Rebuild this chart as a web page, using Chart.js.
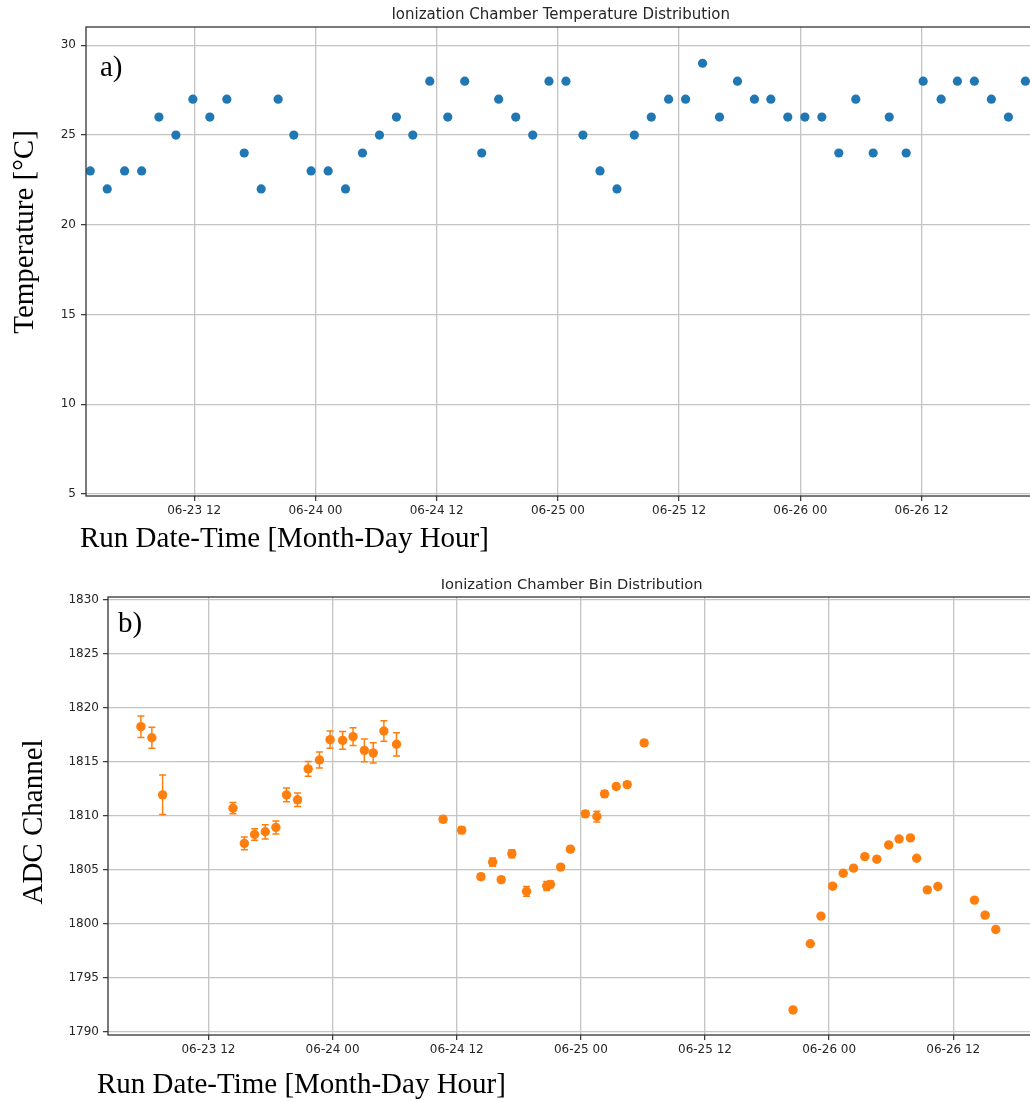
<!DOCTYPE html>
<html>
<head>
<meta charset="utf-8">
<script src="https://cdn.jsdelivr.net/npm/chart.js"></script>
<style>
  body { margin: 0; background: #fff; overflow: hidden; }
  #wrap { position: relative; width: 1030px; height: 1102px; overflow: hidden; }
  canvas { position: absolute; left: 0; }
</style>
</head>
<body>
<div id="wrap">
  <canvas id="tempChart" width="1040" height="556" style="top:0"></canvas>
  <canvas id="adcChart" width="1040" height="546" style="top:556px"></canvas>
</div>
<script>
// run times are hours since 06-23 00:00
const hourTicks = [12, 24, 36, 48, 60, 72, 84];
const hourTickLabels = ["06-23 12", "06-24 00", "06-24 12", "06-25 00", "06-25 12", "06-26 00", "06-26 12"];

const tempTicks = [5, 10, 15, 20, 25, 30];
const runHoursT = [
    1.71, 3.39, 5.11, 6.80, 8.51, 10.19, 11.87, 13.55, 15.23, 16.95, 18.63, 20.31, 21.86,
    23.57, 25.26, 26.98, 28.66, 30.34, 32.02, 33.64, 35.32, 37.10, 38.78, 40.46, 42.14, 43.83,
    45.51, 47.12, 48.80, 50.48, 52.17, 53.85, 55.57, 57.25, 58.96, 60.64, 62.32, 64.00,
    65.78, 67.46, 69.08, 70.76, 72.45, 74.13, 75.81, 77.49, 79.21, 80.80, 82.48, 84.16,
    85.94, 87.55, 89.23, 90.91, 92.60, 94.28
];
const temperature = [
    23, 22, 23, 23, 26, 25, 27, 26, 27, 24, 22, 27, 25,
    23, 23, 22, 24, 25, 26, 25, 28, 26, 28, 24, 27, 26,
    25, 28, 28, 25, 23, 22, 25, 26, 27, 27, 29, 26,
    28, 27, 27, 26, 26, 26, 24, 27, 24, 26, 24, 28,
    27, 28, 28, 27, 26, 28
];

const adcTicks = [1790, 1795, 1800, 1805, 1810, 1815, 1820, 1825, 1830];
const runHoursB = [
    5.47, 6.53, 7.57, 14.37, 15.47, 16.46, 17.49, 18.52, 19.55, 20.61, 21.64, 22.73, 23.76,
    24.97, 25.98, 27.07, 27.93, 28.96, 30.18,
    34.68, 36.48, 38.34, 39.47, 40.30, 41.33, 42.75, 44.70, 45.06, 46.05, 46.99, 48.43,
    49.55, 50.29, 51.42, 52.48, 54.12,
    68.51, 70.18, 71.21, 72.34, 73.36, 74.36, 75.45, 76.61, 77.76, 78.76, 79.86, 80.46,
    81.49, 82.51, 86.05, 87.08, 88.11
];
const adcChannel = [
    1818.27, 1817.25, 1811.96, 1810.72, 1807.46, 1808.29, 1808.54, 1808.94, 1811.96, 1811.50,
    1814.36, 1815.19, 1817.07, 1817.00, 1817.35, 1816.08, 1815.84, 1817.87, 1816.64,
    1809.70, 1808.69, 1804.38, 1805.73, 1804.10, 1806.51, 1803.02, 1803.51, 1803.67, 1805.27,
    1806.93, 1810.20, 1809.95, 1812.05, 1812.73, 1812.91, 1816.77,
    1792.04, 1798.17, 1800.73, 1803.50, 1804.70, 1805.17, 1806.24, 1806.00, 1807.32, 1807.87,
    1807.97, 1806.09, 1803.16, 1803.47, 1802.21, 1800.82, 1799.49
];
const adcError = [
    1.00, 0.97, 1.83, 0.52, 0.59, 0.54, 0.66, 0.60, 0.63, 0.63,
    0.69, 0.74, 0.79, 0.82, 0.83, 1.06, 0.94, 0.95, 1.08,
    0.30, 0.30, 0.25, 0.38, 0.25, 0.37, 0.46, 0.42, 0.30, 0.25,
    0.25, 0.28, 0.50, 0.28, 0.25, 0.25, 0.25,
    0.15, 0.15, 0.15, 0.15, 0.15, 0.15, 0.15, 0.15, 0.15, 0.15,
    0.15, 0.15, 0.15, 0.15, 0.15, 0.15, 0.15
];

const BLUE = "#1f77b4";
const ORANGE = "#ff7f0e";
const GRID = "#c4c4c4";
const INK = "#262626";

// box around the plot area, like a matplotlib axes frame
const frame = {
    id: "frame",
    afterDraw(chart) {
        const { ctx, chartArea: a } = chart;
        ctx.save();
        ctx.strokeStyle = "#333";
        ctx.lineWidth = 1.3;
        ctx.strokeRect(a.left, a.top, a.right - a.left, a.bottom - a.top);
        ctx.restore();
    }
};

// vertical error bars with caps, drawn under the markers
const errorBars = {
    id: "errorBars",
    beforeDatasetsDraw(chart) {
        const { ctx, scales: { x, y } } = chart;
        chart.data.datasets.forEach(ds => {
            if (!ds.errors) return;
            ctx.save();
            ctx.strokeStyle = ds.backgroundColor;
            ctx.lineWidth = 1.5;
            ds.data.forEach((p, i) => {
                const px = x.getPixelForValue(p.x);
                const top = y.getPixelForValue(p.y + ds.errors[i]);
                const bot = y.getPixelForValue(p.y - ds.errors[i]);
                ctx.beginPath();
                ctx.moveTo(px, top); ctx.lineTo(px, bot);
                ctx.moveTo(px - 3.5, top); ctx.lineTo(px + 3.5, top);
                ctx.moveTo(px - 3.5, bot); ctx.lineTo(px + 3.5, bot);
                ctx.stroke();
            });
            ctx.restore();
        });
    }
};

// serif panel letter and axis captions
function captions(items) {
    return {
        id: "captions",
        afterDraw(chart) {
            const ctx = chart.ctx;
            ctx.save();
            ctx.fillStyle = "#000";
            ctx.font = '29px "Liberation Serif"';
            ctx.textBaseline = "alphabetic";
            items.forEach(t => {
                ctx.save();
                ctx.translate(t.x, t.y);
                if (t.rotate) ctx.rotate(-Math.PI / 2);
                ctx.textAlign = t.align || "left";
                ctx.fillText(t.text, 0, 0);
                ctx.restore();
            });
            ctx.restore();
        }
    };
}

function axes(opts) {
    const tickFont = { family: "DejaVu Sans", size: 12 };
    return {
        x: {
            type: "linear",
            min: opts.xMin,
            max: opts.xMax,
            afterBuildTicks: s => { s.ticks = hourTicks.map(v => ({ value: v })); },
            afterFit: s => { s.height = opts.xHeight; },
            ticks: {
                autoSkip: false,
                maxRotation: 0,
                padding: 3,
                color: INK,
                font: tickFont,
                callback: (v, i) => hourTickLabels[i]
            },
            grid: { color: GRID, lineWidth: 1.3, tickColor: "#333", tickLength: 5, tickWidth: 1.2 },
            border: { display: false }
        },
        y: {
            type: "linear",
            min: opts.yMin,
            max: opts.yMax,
            afterBuildTicks: s => { s.ticks = opts.yTicks.map(v => ({ value: v })); },
            afterFit: s => { s.width = opts.yWidth; },
            ticks: { padding: opts.yPad, color: INK, font: tickFont, callback: v => String(v) },
            grid: { color: GRID, lineWidth: 1.3, tickColor: "#333", tickLength: 5, tickWidth: 1.2 },
            border: { display: false }
        }
    };
}

function titleOpts(text, size, top, bottom) {
    return {
        display: true,
        text: text,
        fullSize: false,
        color: INK,
        font: { family: "DejaVu Sans", size: size, weight: "normal" },
        padding: { top: top, bottom: bottom }
    };
}

new Chart(document.getElementById("tempChart"), {
    type: "scatter",
    data: {
        datasets: [{
            data: runHoursT.map((h, i) => ({ x: h, y: temperature[i] })),
            backgroundColor: BLUE,
            borderColor: BLUE,
            pointRadius: 4.6,
            pointBorderWidth: 0
        }]
    },
    options: {
        responsive: false,
        animation: false,
        events: [],
        layout: { padding: { left: 0, right: 4, top: 0, bottom: 0 } },
        plugins: {
            legend: { display: false },
            tooltip: { enabled: false },
            title: titleOpts("Ionization Chamber Temperature Distribution", 15, 6, 3)
        },
        scales: axes({
            xMin: 1.29, xMax: 95.27, xHeight: 60,
            yMin: 4.89, yMax: 31.02, yTicks: tempTicks, yWidth: 86, yPad: 5
        })
    },
    plugins: [frame, captions([
        { text: "a)", x: 100, y: 76 },
        { text: "Temperature [°C]", x: 33, y: 232, rotate: true, align: "center" },
        { text: "Run Date-Time [Month-Day Hour]", x: 80, y: 547 }
    ])]
});

new Chart(document.getElementById("adcChart"), {
    type: "scatter",
    data: {
        datasets: [{
            data: runHoursB.map((h, i) => ({ x: h, y: adcChannel[i] })),
            errors: adcError,
            backgroundColor: ORANGE,
            borderColor: ORANGE,
            pointRadius: 4.7,
            pointBorderWidth: 0
        }]
    },
    options: {
        responsive: false,
        animation: false,
        events: [],
        layout: { padding: { left: 0, right: 2, top: 0, bottom: 0 } },
        plugins: {
            legend: { display: false },
            tooltip: { enabled: false },
            title: titleOpts("Ionization Chamber Bin Distribution", 14.7, 20.7, 2.66)
        },
        scales: axes({
            xMin: 2.29, xMax: 91.93, xHeight: 67,
            yMin: 1789.72, yMax: 1830.28, yTicks: adcTicks, yWidth: 108, yPad: 4
        })
    },
    plugins: [errorBars, frame, captions([
        { text: "b)", x: 118, y: 76 },
        { text: "ADC Channel", x: 42, y: 266, rotate: true, align: "center" },
        { text: "Run Date-Time [Month-Day Hour]", x: 97, y: 537 }
    ])]
});
</script>
</body>
</html>
